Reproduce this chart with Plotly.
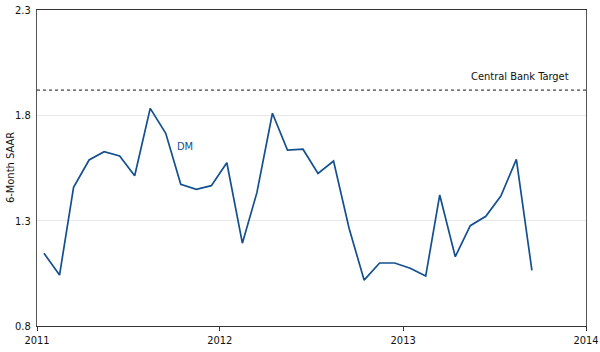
import plotly.graph_objects as go

months = [f"{y}-{m:02d}-15" for y in (2011, 2012, 2013) for m in range(1, 13)][:33]
dm_values = [1.145, 1.042, 1.458, 1.588, 1.627, 1.607, 1.513, 1.833, 1.715, 1.473, 1.449, 1.466,
             1.575, 1.193, 1.433, 1.810, 1.635, 1.639, 1.524, 1.583, 1.264, 1.018, 1.099, 1.099,
             1.074, 1.037, 1.422, 1.129, 1.276, 1.321, 1.417, 1.591, 1.064]
target = 1.92
y_ticks = [0.8, 1.3, 1.8, 2.3]
x_ticks = ["2011-01-01", "2012-01-01", "2013-01-01", "2014-01-01"]
x_labels = ["2011", "2012", "2013", "2014"]

FONT = "DejaVu Sans Condensed"
BLUE = "#13508f"

fig = go.Figure()
fig.add_trace(go.Scatter(x=months, y=dm_values, mode="lines",
                         line=dict(color=BLUE, width=1.7), showlegend=False))
fig.add_trace(go.Scatter(x=["2011-01-01", "2014-01-01"], y=[target, target], mode="lines",
                         line=dict(color="#444444", width=1.2, dash="dot"), showlegend=False))

fig.add_annotation(x="2011-10-03", y=1.652, text="DM", showarrow=False,
                   font=dict(family=FONT, size=11, color=BLUE), xanchor="left", yanchor="middle")
fig.add_annotation(x="2013-12-02", y=target, text="Central Bank Target", showarrow=False,
                   font=dict(family=FONT, size=11, color="#111111"), xanchor="right", yanchor="bottom",
                   yshift=5)
fig.add_annotation(xref="paper", yref="paper", x=-0.049, y=0.5, text="6-Month SAAR", textangle=-90,
                   showarrow=False, font=dict(family=FONT, size=11, color="#111111"),
                   xanchor="center", yanchor="middle")

fig.update_layout(
    width=600, height=352,
    margin=dict(l=37, r=14, t=10, b=26),
    paper_bgcolor="white", plot_bgcolor="white",
    font=dict(family=FONT, size=11, color="#111111"),
    xaxis=dict(type="date", range=["2011-01-01", "2014-01-01"], tickvals=x_ticks, ticktext=x_labels,
               showgrid=False, showline=True, linecolor="#333333", linewidth=1.2, mirror=True,
               ticks="outside", ticklen=4, tickcolor="#333333", zeroline=False, automargin=False,
               tickfont=dict(family=FONT, size=11)),
    yaxis=dict(range=[0.8, 2.3], tickvals=y_ticks, ticktext=["0.8", "1.3", "1.8", "2.3"],
               showgrid=True, gridcolor="#e8e8e8", gridwidth=1,
               showline=True, linecolor="#555555", linewidth=1.2, mirror=True,
               ticks="outside", ticklen=3, tickcolor="rgba(0,0,0,0)", zeroline=False, automargin=False,
               tickfont=dict(family=FONT, size=11)),
)

fig.write_html("out.html")
